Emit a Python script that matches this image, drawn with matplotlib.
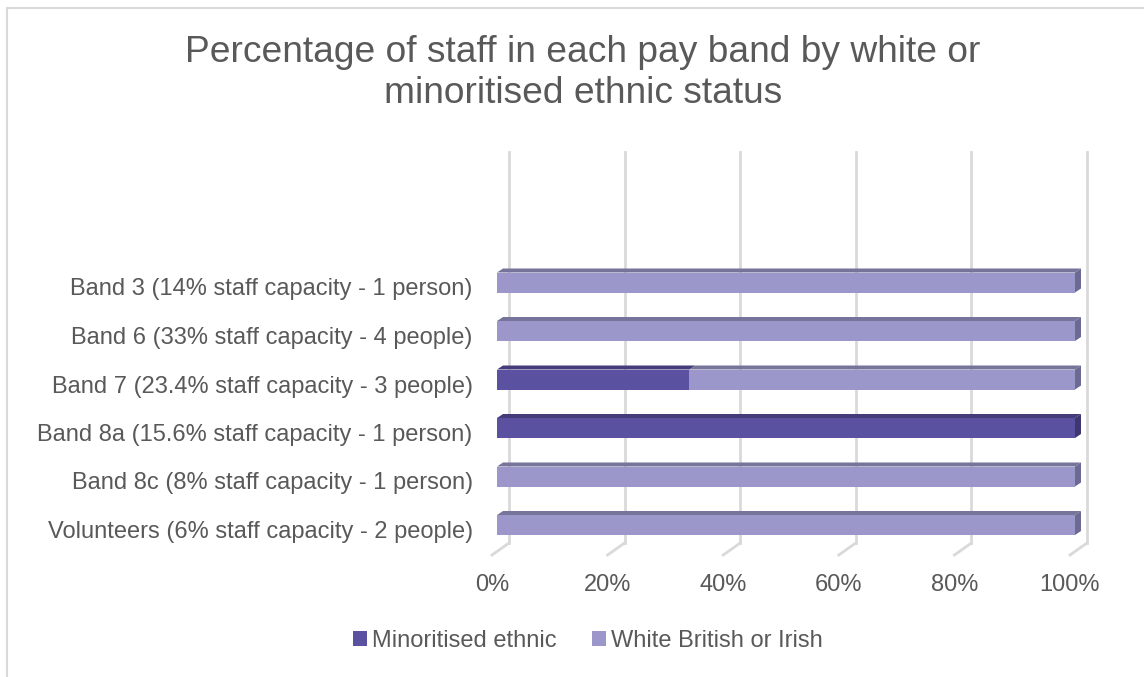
import matplotlib
matplotlib.use("Agg")
import matplotlib.pyplot as plt
from matplotlib.patches import Polygon, Rectangle
from matplotlib.lines import Line2D
from matplotlib.transforms import ScaledTranslation, offset_copy

# ---- data ----
categories = [
    "Band 3 (14% staff capacity - 1 person)",
    "Band 6 (33% staff capacity - 4 people)",
    "Band 7 (23.4% staff capacity - 3 people)",
    "Band 8a (15.6% staff capacity - 1 person)",
    "Band 8c (8% staff capacity - 1 person)",
    "Volunteers (6% staff capacity - 2 people)",
]
minoritised = [0, 0, 33.3, 100, 0, 0]
white = [100, 100, 66.7, 0, 100, 100]
series_names = ["Minoritised ethnic", "White British or Irish"]
xticks = [0, 20, 40, 60, 80, 100]
xtick_labels = ["0%", "20%", "40%", "60%", "80%", "100%"]
title_lines = ["Percentage of staff in each pay band by white or",
               "minoritised ethnic status"]

# ---- style ----
plt.rcParams['font.family'] = ['Liberation Sans', 'DejaVu Sans']
W, H = 1144, 677
DPI = 100
fig = plt.figure(figsize=(W / DPI, H / DPI), dpi=DPI)

text_col = "#595959"
front = {"min": "#5A51A0", "white": "#9B97CA"}
top = {"min": "#433B7A", "white": "#77749B"}
side = {"min": "#3E3670", "white": "#6C6992"}
grid_col = "#D9D9D9"
fs = 17.0

# front-plane geometry in pixels
x0_px, x1_px = 497, 1075
spacing_px = 48.5
y_last_px = 525  # centre of last category
floor_front_px = 555
front_top_px = 164
ppx = (x1_px - x0_px) / 100.0

n = len(categories)
ypos = list(range(n - 1, -1, -1))  # first category at top

ybot = -(floor_front_px - y_last_px) / spacing_px
ytop = (y_last_px - front_top_px) / spacing_px

ax = fig.add_axes([x0_px / W, 1 - floor_front_px / H,
                   (x1_px - x0_px) / W, (floor_front_px - front_top_px) / H])
ax.set_xlim(0, 100)
ax.set_ylim(ybot, ytop)
for s in ax.spines.values():
    s.set_visible(False)
ax.set_facecolor("none")

# gridlines: back wall + floor diagonals
back_dx = 12
wall_top = (y_last_px - 152) / spacing_px
floor_back = (y_last_px - 543) / spacing_px
tr_back = offset_copy(ax.transData, fig=fig, x=back_dx, y=0, units='dots')
for xv in xticks:
    ax.add_line(Line2D([xv, xv], [floor_back, wall_top], transform=tr_back,
                       color=grid_col, lw=2.0, clip_on=False, zorder=0))
    xb = xv + back_dx / ppx
    xf = xv - 5 / ppx
    ax.add_line(Line2D([xb, xf], [floor_back, ybot], color=grid_col, lw=2.0,
                       clip_on=False, zorder=0))

# bars
bh = 20 / spacing_px
ddx = 6 / ppx
ddy = 4 / spacing_px
for i, y in enumerate(ypos):
    left = 0
    segs = [("min", minoritised[i]), ("white", white[i])]
    last_key = None
    for key, v in segs:
        if v <= 0:
            continue
        ax.barh(y, v, left=left, height=bh, color=front[key], zorder=3)
        yt = y + bh / 2
        ax.add_patch(Polygon([(left, yt), (left + v, yt), (left + v + ddx, yt + ddy),
                              (left + ddx, yt + ddy)], closed=True,
                             facecolor=top[key], edgecolor="none", zorder=3,
                             clip_on=False))
        left += v
        last_key = key
    yb = y - bh / 2
    ax.add_patch(Polygon([(left, yb), (left, yb + bh), (left + ddx, yb + bh + ddy),
                          (left + ddx, yb + ddy)], closed=True,
                         facecolor=side[last_key], edgecolor="none", zorder=3,
                         clip_on=False))

# ticks
ax.set_yticks(ypos)
ax.set_yticklabels(categories, fontsize=fs, color=text_col)
ax.tick_params(axis='y', length=0, pad=17.5)
for lab in ax.get_yticklabels():
    lab.set_transform(lab.get_transform() + ScaledTranslation(0, -4.5 / DPI, fig.dpi_scale_trans))
ax.set_xticks(xticks)
ax.set_xticklabels(xtick_labels, fontsize=fs, color=text_col)
ax.tick_params(axis='x', length=0, pad=14)
for lab in ax.get_xticklabels():
    lab.set_transform(lab.get_transform() + ScaledTranslation(-5 / DPI, 0, fig.dpi_scale_trans))

# title
fig.text(583 / W, 1 - 62 / H, title_lines[0], ha='center', va='baseline',
         fontsize=26.7, color=text_col)
fig.text(583 / W, 1 - 103 / H, title_lines[1], ha='center', va='baseline',
         fontsize=26.7, color=text_col)

# legend
handles = [Rectangle((0, 0), 1, 1, facecolor=front["min"]),
           Rectangle((0, 0), 1, 1, facecolor=front["white"])]
fig.legend(handles, series_names, loc='center', bbox_to_anchor=(588 / W, 1 - 641 / H),
           ncol=2, frameon=False, fontsize=fs, labelcolor=text_col,
           handlelength=0.6, handleheight=0.6, handletextpad=0.2, columnspacing=1.5)

# chart border
fig.add_artist(Rectangle((6.5 / W, -0.1), 1.2, 1 - 7.5 / H + 0.1, transform=fig.transFigure,
                         facecolor='none', edgecolor='#D9D9D9', lw=1.5))

fig.savefig("out.png", dpi=DPI)
